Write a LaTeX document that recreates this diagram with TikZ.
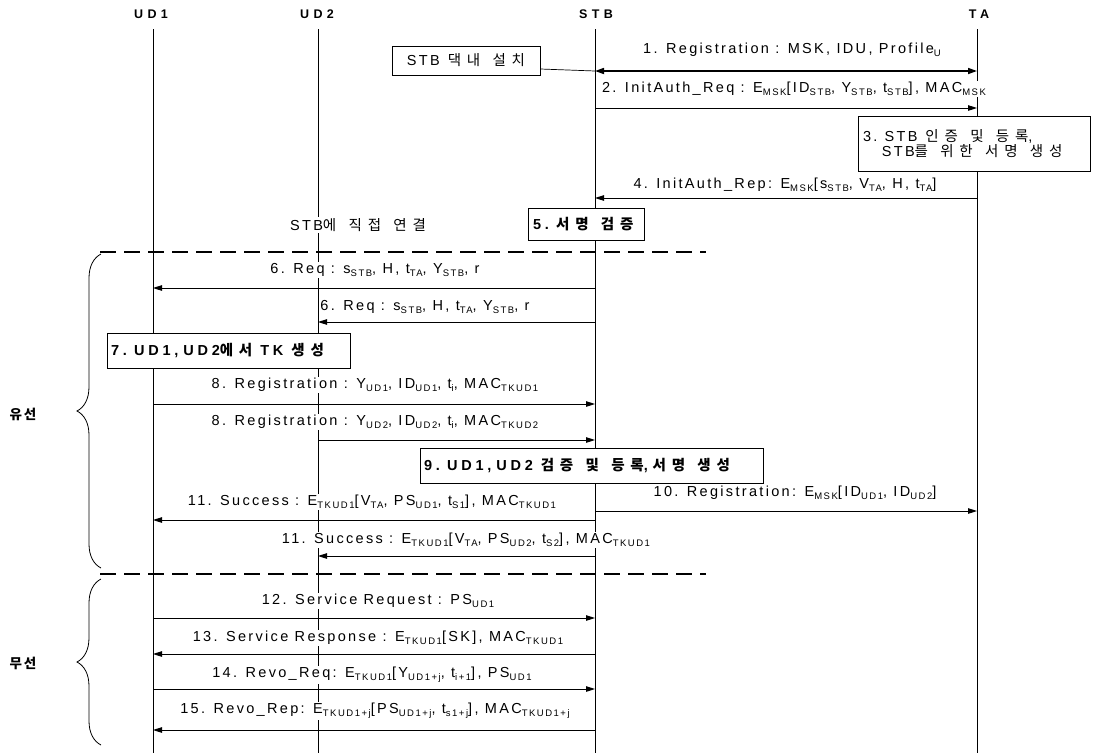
\documentclass[tikz,border=0pt]{standalone}
\usepackage{fontspec}
\setmainfont{Liberation Sans}[LetterSpace=16]
\newfontfamily\krf{Noto Sans CJK KR}[LetterSpace=40]
\usetikzlibrary{arrows.meta,decorations.pathreplacing}
\newcommand\sub[1]{\raisebox{-0.35ex}{\fontsize{9.5}{10}\selectfont #1}}
\newcommand\K[1]{{\krf #1}}
\newcommand\kw{\hspace{0.85em}}
\newcommand\lk{\hspace{0.55em}}
\begin{document}
\begin{tikzpicture}[x=1pt,y=-1pt,
  font=\fontsize{14.5}{16}\selectfont,
  life/.style={line width=0.8pt},
  msg/.style={line width=0.9pt,-{Triangle[length=9pt,width=5.5pt]}},
  dmsg/.style={line width=1.6pt,{Triangle[length=9pt,width=6pt]}-{Triangle[length=9pt,width=6pt]}},
  lbl/.style={fill=white,inner sep=1pt},
  box/.style={draw,fill=white,line width=0.8pt,inner sep=2pt},
  bbox/.style={box,font=\fontsize{14.5}{16}\selectfont\bfseries\addfontfeature{LetterSpace=26}},
  hdr/.style={font=\fontsize{12.5}{14}\selectfont\bfseries\addfontfeature{LetterSpace=35}},
  sep/.style={line width=2.6pt,dash pattern=on 16pt off 8pt},
  brc/.style={decorate,decoration={brace,amplitude=24pt},line width=0.8pt},
  side/.style={font=\fontsize{13.5}{15}\selectfont\bfseries\krf}]
\path[use as bounding box] (0,0) rectangle (1102,753);

% headers
\node[hdr] (UD1) at (151,14) {UD1};
\node[hdr] (UD2) at (317,14) {UD2};
\node[hdr] (STB) at (596,14) {STB};
\node[hdr] (TA)  at (979,14) {TA};
\coordinate (u1t) at (153,29); \coordinate (u1b) at (153,753);
\coordinate (u2t) at (318,29); \coordinate (u2b) at (318,753);
\coordinate (st)  at (595,29); \coordinate (sb)  at (595,753);
\coordinate (tt)  at (977,29); \coordinate (tb)  at (977,753);
\draw[life] (u1t) -- (u1b);
\draw[life] (u2t) -- (u2b);
\draw[life] (st) -- (sb);
\draw[life] (tt) -- (tb);

% separators
\coordinate (d1a) at (100,252); \coordinate (d1b) at (706,252);
\coordinate (d2a) at (100,574); \coordinate (d2b) at (706,574);
\draw[sep] (d1a) -- (d1b);
\draw[sep] (d2a) -- (d2b);

% braces
\coordinate (b1t) at (101,254); \coordinate (b1b) at (101,568);
\coordinate (b2t) at (101,579); \coordinate (b2b) at (101,745);
\draw[brc] (b1b) -- (b1t);
\draw[brc] (b2b) -- (b2t);
\node[side] (wired) at (23,414) {유\hspace{0.15em}선};
\node[side] (wless) at (23,663) {무\hspace{0.15em}선};

% 1
\node[box,minimum width=148pt,minimum height=29pt] (inst) at (466,60.5) {STB\lk\K{댁내\kw 설치}};
\coordinate (s1) at (595,71); \coordinate (t1) at (977,71);
\draw[line width=0.7pt] ([yshift=-8.5pt]inst.east) -- (s1);
\draw[dmsg] (s1) -- (t1);
\node[lbl] (l1) at (792,50) {1. Registration : MSK, IDU, Profile\sub{U}};

% 2
\coordinate (s2) at (595,108); \coordinate (t2) at (977,108);
\draw[msg] (s2) -- (t2);
\node[lbl] (l2) at (794,89) {2. InitAuth\_Req : E\sub{MSK}[ID\sub{STB}, Y\sub{STB}, t\sub{STB}], MAC\sub{MSK}};

% 3
\node[box,minimum width=232pt,minimum height=55pt,text width=222pt,align=left] (b3) at (974,143.5)
  {3. STB\lk\K{인증\kw 및\kw 등록},\\[-1pt]\hspace*{1.3em}STB\K{를\kw 위한\kw 서명\kw 생성}};

% 4
\coordinate (s4) at (595,198); \coordinate (t4) at (977,198);
\draw[msg] (t4) -- (s4);
\node[lbl] (l4) at (785,185) {4. InitAuth\_Rep: E\sub{MSK}[s\sub{STB}, V\sub{TA}, H, t\sub{TA}]};

% 5
\node[bbox,minimum width=116pt,minimum height=32pt,text width=106pt,align=left] (b5) at (586,224)
  {5. \K{서명\kw 검증}};
\node[lbl] (direct) at (358,225) {STB\K{에\kw 직접\kw 연결}};

% 6
\coordinate (s6a) at (595,288); \coordinate (u6a) at (153,288);
\draw[msg] (s6a) -- (u6a);
\node[lbl] (l6a) at (375,270) {6. Req : s\sub{STB}, H, t\sub{TA}, Y\sub{STB}, r};
\coordinate (s6b) at (595,322); \coordinate (u6b) at (318,322);
\draw[msg] (s6b) -- (u6b);
\node[lbl] (l6b) at (425,307) {6. Req : s\sub{STB}, H, t\sub{TA}, Y\sub{STB}, r};

% 7
\node[bbox,minimum width=243pt,minimum height=35pt,text width=235pt,align=left] (b7) at (228.5,350.5)
  {7. UD1, UD2\K{에서}\lk TK\lk\K{생성}};

% 8
\coordinate (u8a) at (153,404); \coordinate (s8a) at (595,404);
\draw[msg] (u8a) -- (s8a);
\node[lbl] (l8a) at (375,385) {8. Registration : Y\sub{UD1}, ID\sub{UD1}, t\sub{i}, MAC\sub{TKUD1}};
\coordinate (u8b) at (318,440); \coordinate (s8b) at (595,440);
\draw[msg] (u8b) -- (s8b);
\node[lbl] (l8b) at (375,422) {8. Registration : Y\sub{UD2}, ID\sub{UD2}, t\sub{i}, MAC\sub{TKUD2}};

% 9
\node[bbox,minimum width=343pt,minimum height=35pt,text width=335pt,align=left] (b9) at (591.5,465.5)
  {9. UD1, UD2\lk\K{검증\kw 및\kw 등록}, \K{서명\kw 생성}};

% 10
\coordinate (s10) at (595,511); \coordinate (t10) at (977,511);
\draw[msg] (s10) -- (t10);
\node[lbl] (l10) at (795,493) {10. Registration: E\sub{MSK}[ID\sub{UD1}, ID\sub{UD2}]};

% 11
\coordinate (s11a) at (595,520); \coordinate (u11a) at (153,520);
\draw[msg] (s11a) -- (u11a);
\node[lbl] (l11a) at (372,502) {11. Success : E\sub{TKUD1}[V\sub{TA}, PS\sub{UD1}, t\sub{S1}], MAC\sub{TKUD1}};
\coordinate (s11b) at (595,556); \coordinate (u11b) at (318,556);
\draw[msg] (s11b) -- (u11b);
\node[lbl] (l11b) at (466,540) {11. Success : E\sub{TKUD1}[V\sub{TA}, PS\sub{UD2}, t\sub{S2}], MAC\sub{TKUD1}};

% 12
\coordinate (u12) at (153,618); \coordinate (s12) at (595,618);
\draw[msg] (u12) -- (s12);
\node[lbl] (l12) at (378,601) {12. Service Request : PS\sub{UD1}};

% 13
\coordinate (s13) at (595,654); \coordinate (u13) at (153,654);
\draw[msg] (s13) -- (u13);
\node[lbl] (l13) at (378,638) {13. Service Response : E\sub{TKUD1}[SK], MAC\sub{TKUD1}};

% 14
\coordinate (u14) at (153,689); \coordinate (s14) at (595,689);
\draw[msg] (u14) -- (s14);
\node[lbl] (l14) at (372,675) {14. Revo\_Req: E\sub{TKUD1}[Y\sub{UD1+j}, t\sub{i+1}], PS\sub{UD1}};

% 15
\coordinate (s15) at (595,730); \coordinate (u15) at (153,730);
\draw[msg] (s15) -- (u15);
\node[lbl] (l15) at (375,711) {15. Revo\_Rep: E\sub{TKUD1+j}[PS\sub{UD1+j}, t\sub{s1+j}], MAC\sub{TKUD1+j}};
\end{tikzpicture}
\end{document}
